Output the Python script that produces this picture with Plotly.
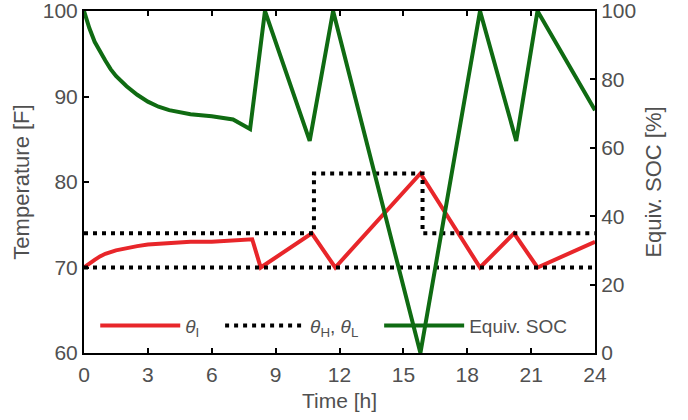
import plotly.graph_objects as go

# Indoor temperature theta_I [F]
t_in = [0, 0.25, 0.5, 0.75, 1, 1.5, 2, 2.5, 3, 3.5, 4, 5, 6, 7, 7.9, 8.3, 10.7, 11.8, 15.8, 18.6, 20.2, 21.3, 24]
temp_in = [70, 70.5, 70.9, 71.3, 71.6, 72.0, 72.3, 72.5, 72.7, 72.8, 72.9, 73.0, 73.0, 73.1, 73.3, 70, 74, 70, 81, 70, 74, 70, 73]

# Upper comfort bound theta_H and lower bound theta_L [F]
t_high = [0, 10.8, 10.8, 15.9, 15.9, 24]
temp_high = [74, 74, 81, 81, 74, 74]
t_low = [0, 24]
temp_low = [70, 70]

# Equivalent SOC [%]
t_soc = [0, 0.25, 0.5, 0.75, 1, 1.25, 1.5, 2, 2.5, 3, 3.5, 4, 4.5, 5, 6, 7, 7.8, 8.5, 10.6, 11.7, 15.8, 18.6, 20.3, 21.3, 24]
soc = [100, 95, 91, 88, 85.5, 83, 81, 78, 75.5, 73.5, 72, 71, 70.3, 69.8, 69.2, 68.3, 65.5, 100, 62, 100, 0, 100, 62, 100, 71]

x_ticks = [0, 3, 6, 9, 12, 15, 18, 21, 24]

font_family = "Liberation Sans, Arial, sans-serif"
text_color = "#505050"
pad = "\u00a0"

fig = go.Figure()
fig.add_trace(go.Scatter(x=t_in, y=temp_in, mode="lines", name="<i>θ</i><sub>I</sub>" + pad * 3,
                         line=dict(color="#e8262a", width=4)))
fig.add_trace(go.Scatter(x=t_high, y=temp_high, mode="lines",
                         name="<i>θ</i><sub>H</sub>, <i>θ</i><sub>L</sub>" + pad * 3,
                         legendgroup="bounds",
                         line=dict(color="black", width=4, dash="4px,5px")))
fig.add_trace(go.Scatter(x=t_low, y=temp_low, mode="lines", showlegend=False,
                         legendgroup="bounds",
                         line=dict(color="black", width=4, dash="4px,5px")))
fig.add_trace(go.Scatter(x=t_soc, y=soc, mode="lines", name="Equiv. SOC", yaxis="y2",
                         line=dict(color="#0f6b12", width=4)))

axis_common = dict(showgrid=False, zeroline=False, ticks="inside", ticklen=5,
                   tickwidth=1.5, tickcolor="black", linecolor="black", linewidth=2,
                   automargin=False, ticklabeloverflow="allow",
                   tickfont=dict(size=21, color=text_color, family=font_family))

fig.update_layout(
    width=688, height=420,
    margin=dict(l=84, r=93, t=11, b=67),
    paper_bgcolor="white", plot_bgcolor="white",
    font=dict(family=font_family, color=text_color),
    xaxis=dict(range=[0, 24], tickvals=x_ticks, showline=True, mirror="ticks",
               ticklabelstandoff=2,
               title=dict(text="Time [h]", font=dict(size=21, color=text_color), standoff=8),
               **axis_common),
    yaxis=dict(range=[60, 100], dtick=10, showline=True,
               title=dict(text="Temperature [F]", font=dict(size=22, color=text_color), standoff=7),
               **axis_common),
    yaxis2=dict(range=[0, 100], dtick=20, overlaying="y", side="right", showline=True,
                title=dict(text="Equiv. SOC [%]", font=dict(size=22, color=text_color), standoff=10),
                **axis_common),
    legend=dict(orientation="h", x=0.022, y=0.08, xanchor="left", yanchor="middle",
                bgcolor="rgba(0,0,0,0)", font=dict(size=19, color=text_color, family=font_family),
                itemwidth=80, tracegroupgap=0),
)

fig.write_html("out.html", config={"displayModeBar": False},
               post_script="document.body.style.margin='0';")
